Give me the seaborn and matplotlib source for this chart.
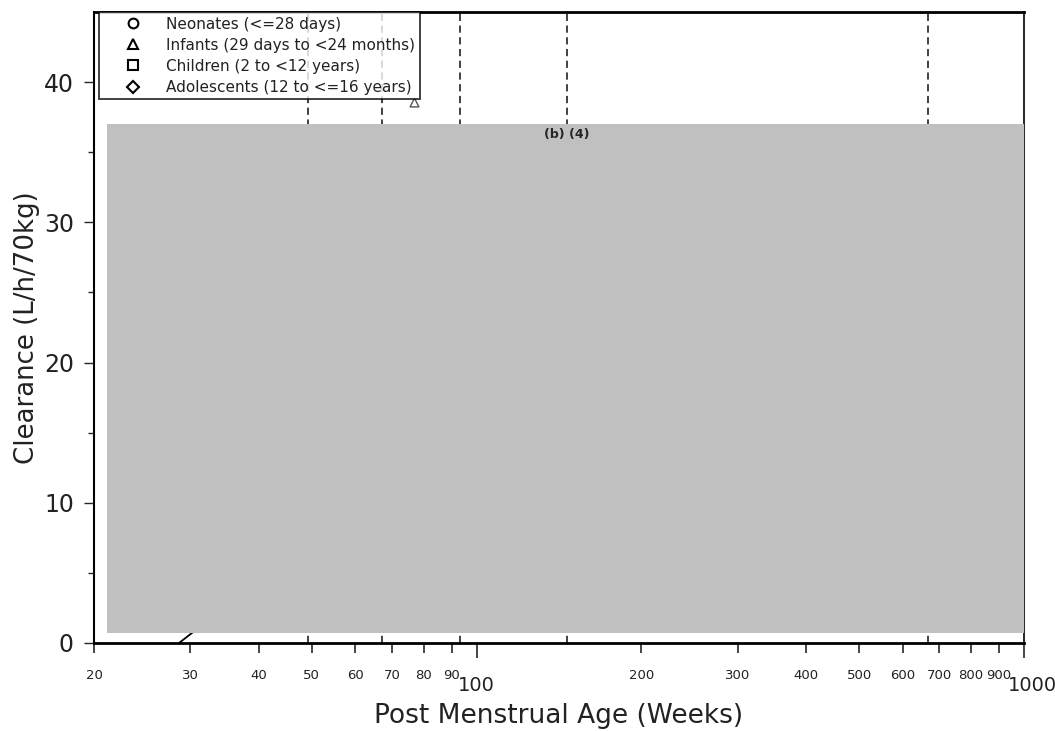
import matplotlib
matplotlib.use("Agg")
import matplotlib.pyplot as plt
import matplotlib.transforms as mtrans
from matplotlib.lines import Line2D
from matplotlib.patches import Rectangle
import seaborn as sns
import pandas as pd

# values
age_groups = ["Neonates (<=28 days)", "Infants (29 days to <24 months)",
              "Children (2 to <12 years)", "Adolescents (12 to <=16 years)"]
group_markers = ["o", "^", "s", "D"]

visible_pma = [77.0]          # the one point left uncovered (an infant)
visible_cl = [38.6]
visible_group = ["Infants (29 days to <24 months)"]

curve_pma = [28.6, 30.4]      # tail of the fitted curve under the redaction
curve_cl = [0.0, 0.8]

boundary_pma = [49.2, 67.2, 93.3, 146.5, 669.0]

x_minor = [20, 30, 40, 50, 60, 70, 80, 90, 200, 300, 400, 500, 600, 700, 800, 900]
x_major = [100, 1000]
y_major = [0, 10, 20, 30, 40]
y_minor = [5, 15, 25, 35]

sns.set_style("ticks")
plt.rcParams["font.family"] = ["DejaVu Sans"]

fig = plt.figure(figsize=(10.55, 7.31), dpi=100)
ax = fig.add_axes([0.0891, 0.1204, 0.8815, 0.8632])

for x in boundary_pma:
    ax.axvline(x, color="#333333", lw=1.3, ls=(0, (4, 2.5)), zorder=1)

curve = pd.DataFrame({"pma": curve_pma, "cl": curve_cl})
sns.lineplot(data=curve, x="pma", y="cl", color="black", lw=1.3, ax=ax, zorder=2)

pts = pd.DataFrame({"pma": visible_pma, "cl": visible_cl, "group": visible_group})
sns.scatterplot(data=pts, x="pma", y="cl", marker="^", s=40, facecolor="white",
                edgecolor="#555555", linewidth=1.0, ax=ax, legend=False, zorder=3)

# redaction box
ax.add_patch(Rectangle((0.014, 0.016), 0.986, 0.806, transform=ax.transAxes,
                       facecolor="#c0c0c0", edgecolor="none", zorder=4))
ax.text(0.5086, 0.806, "(b) (4)", transform=ax.transAxes, ha="center", va="center",
        fontsize=9, fontweight="bold", zorder=5)

ax.set_xscale("log")
ax.set_xlim(20, 1000)
ax.set_ylim(0, 45)

ax.set_xticks(x_major)
ax.set_xticklabels([str(v) for v in x_major], fontsize=14)
ax.set_xticks(x_minor, minor=True)
ax.set_xticklabels([str(v) for v in x_minor], minor=True, fontsize=9.5)
ax.tick_params(axis="x", which="major", length=11, width=1.2, pad=12.5)
ax.tick_params(axis="x", which="minor", length=7, width=1.2, pad=12)
big = ax.get_xticklabels()
big[-1].set_transform(big[-1].get_transform() +
                      mtrans.ScaledTranslation(8 / 100, 0, fig.dpi_scale_trans))

ax.set_yticks(y_major)
ax.set_yticklabels([str(v) for v in y_major], fontsize=17)
ax.set_yticks(y_minor, minor=True)
ax.tick_params(axis="y", which="major", length=7.5, width=1.0, pad=7)
ax.tick_params(axis="y", which="minor", length=4, width=1.0)

for t in ax.get_xticklabels() + ax.get_yticklabels() + ax.get_xticklabels(minor=True):
    t.set_color("#222222")

ax.set_xlabel("Post Menstrual Age (Weeks)", fontsize=19, color="#222222", labelpad=6)
ax.set_ylabel("Clearance (L/h/70kg)", fontsize=18.7, color="#222222", labelpad=3)

ax.spines["top"].set_linewidth(2.0)
ax.spines["bottom"].set_linewidth(2.0)
ax.spines["left"].set_linewidth(1.5)
ax.spines["right"].set_linewidth(1.2)
for s in ax.spines.values():
    s.set_color("black")

handles = [Line2D([], [], ls="none", marker=m, markersize=7, markerfacecolor="white",
                  markeredgecolor="black", markeredgewidth=1.5) for m in group_markers]
handles[3].set_markersize(6)
leg = ax.legend(handles, age_groups, loc="upper left", bbox_to_anchor=(0.005, 1.0),
                frameon=True, fancybox=False, fontsize=11, borderpad=0.3,
                labelspacing=0.4, handletextpad=0.28, borderaxespad=0.0,
                handlelength=3.85)
leg.get_frame().set_edgecolor("black")
leg.get_frame().set_linewidth(1.3)
leg.set_zorder(6)
for t in leg.get_texts():
    t.set_color("#222222")

fig.savefig("out.png", dpi=100)
